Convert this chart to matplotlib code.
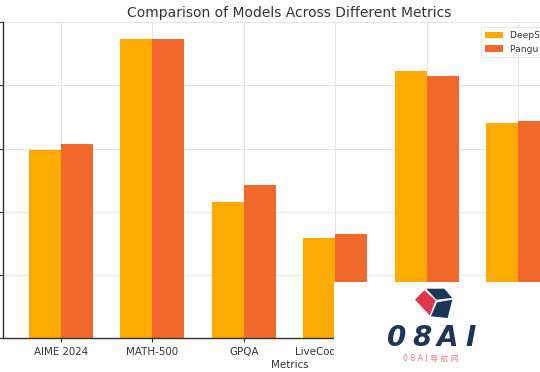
import matplotlib.pyplot as plt
import numpy as np
from matplotlib.patches import Rectangle, Polygon

# Benchmark scores (%)
metrics = ["AIME 2024", "MATH-500", "GPQA", "LiveCodeBench", "ArenaHard", "MMLU-Pro"]
deepseek_r1 = [79.8, 97.3, 71.5, 65.9, 92.3, 84.0]
pangu_ultra = [80.8, 97.4, 74.2, 66.5, 91.5, 84.4]
model_names = ["DeepSeek R1", "Pangu Ultra"]
y_ticks = [50, 60, 70, 80, 90, 100]

dark = "#333333"
colors = ["#FDAB02", "#F1692A"]

fig = plt.figure(figsize=(5.4, 3.72), dpi=100)
# the original chart is cropped: axes run past the right edge
ax = fig.add_axes([3 / 540, 33.7 / 372, 573 / 540, 316 / 372])

x = np.arange(len(metrics))
width = 0.35
ax.bar(x - width / 2, deepseek_r1, width, label=model_names[0], color=colors[0])
ax.bar(x + width / 2, pangu_ultra, width, label=model_names[1], color=colors[1])

ax.set_ylim(50, 100)
ax.set_yticks(y_ticks)
ax.set_xticks(x, metrics)
ax.tick_params(axis="both", colors=dark, labelsize=7.4, length=3, width=0.8)

ax.grid(True, color="#e0e0e0", linewidth=0.6)
ax.set_axisbelow(True)
for side in ["top", "right"]:
    ax.spines[side].set_visible(False)
for side in ["left", "bottom"]:
    ax.spines[side].set_color(dark)
    ax.spines[side].set_linewidth(1.0)

ax.set_title("Comparison of Models Across Different Metrics", fontsize=10, color=dark, pad=3.5)
ax.set_xlabel("Metrics", fontsize=7.4, color=dark, labelpad=2)

leg = ax.legend(loc="upper left", bbox_to_anchor=(0.834, 0.984), borderaxespad=0,
                fontsize=6.6, frameon=True, fancybox=True)
leg.get_frame().set_edgecolor("#dddddd")
leg.get_frame().set_linewidth(0.6)
for t in leg.get_texts():
    t.set_color(dark)


# watermark logo block covering the lower right corner
def px(xp, yp):
    return (xp / 540, 1 - yp / 372)


fig.add_artist(Rectangle(px(334, 372), (540 - 334) / 540, 90 / 372,
                         transform=fig.transFigure, facecolor="white",
                         edgecolor="none", zorder=10))
navy = "#1E3458"
cube_faces = [
    ([(424.3, 290.3), (435.7, 300.3), (429.7, 315.3), (415, 299.7)], "#E0384A"),
    ([(426.3, 288.7), (444.3, 288.7), (452.3, 298), (436.3, 299.7)], navy),
    ([(437, 302.3), (452.3, 299.7), (447.7, 318), (431, 316.3)], navy),
]
for pts, c in cube_faces:
    fig.add_artist(Polygon([px(a, b) for a, b in pts], closed=True,
                           transform=fig.transFigure, facecolor=c,
                           edgecolor="none", zorder=11))
for ch, xp in zip("08AI", [397, 421.7, 447.3, 470.7]):
    fig.text(*px(xp, 338), ch, fontsize=20, fontweight="heavy", style="italic",
             color=navy, ha="center", va="center", zorder=11)
fig.text(*px(431, 358), "0 8 A I 导 航 网", fontsize=5.6, color="#E57A8A",
         ha="center", va="center", zorder=11,
         family=["DejaVu Sans", "Noto Sans CJK SC"])

fig.savefig("out.png", dpi=100)
